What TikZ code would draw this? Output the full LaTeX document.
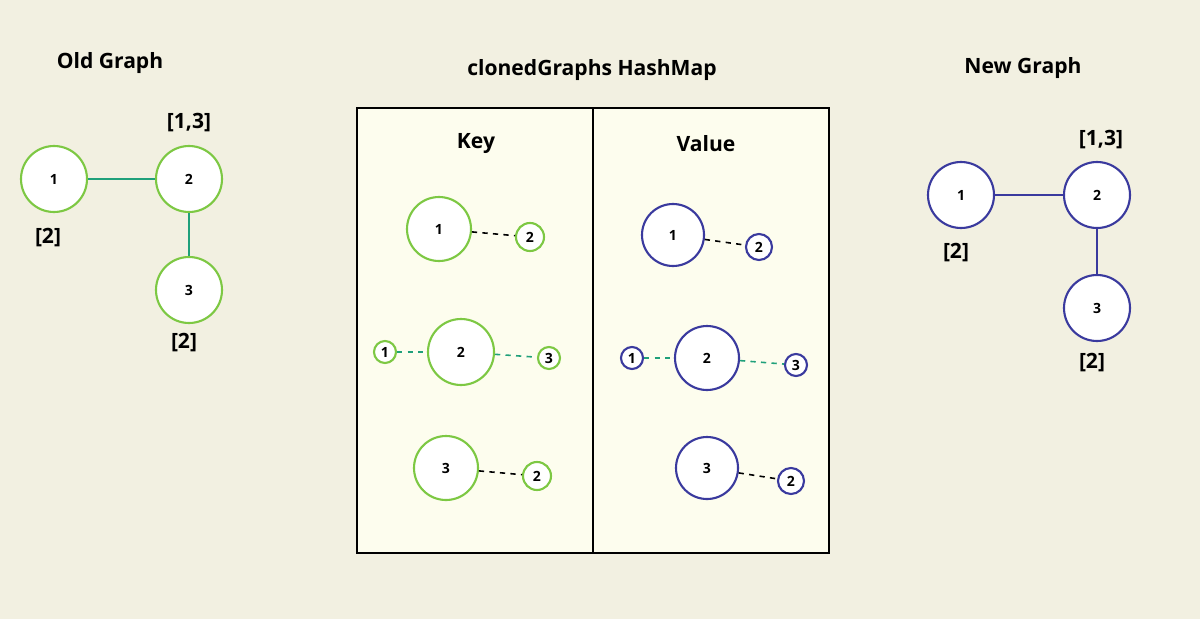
\documentclass[tikz,border=0pt]{standalone}
\usepackage{fontspec}
\setmainfont{Open Sans}
\definecolor{bg}{HTML}{F2F0E1}
\definecolor{boxfill}{HTML}{FDFDEE}
\definecolor{lgreen}{HTML}{7DC843}
\definecolor{teal}{HTML}{1FA07A}
\definecolor{dblue}{HTML}{3A3A9E}
\tikzset{
  gn/.style={circle, draw=lgreen, line width=1.2pt, fill=white, inner sep=0pt, minimum size=#1*0.02cm, font=\bfseries\footnotesize},
  bn/.style={circle, draw=dblue, line width=1.2pt, fill=white, inner sep=0pt, minimum size=#1*0.02cm, font=\bfseries\footnotesize},
  lbl/.style={font=\bfseries\large},
  ttl/.style={font=\bfseries\large},
  dsh/.style={dashed, line width=0.9pt}
}
\begin{document}
\begin{tikzpicture}[x=0.02cm,y=-0.02cm]
  \fill[bg] (0,0) rectangle (1200,619);
  \useasboundingbox (0,0) rectangle (1200,619);

  % old graph
  \node[ttl] (oldt) at (110,63) {Old Graph};
  \node[gn=66] (o1) at (54,179) {1};
  \node[gn=66] (o2) at (189,179) {2};
  \node[gn=66] (o3) at (189,290) {3};
  \draw[teal,line width=1.2pt] (o1) -- (o2);
  \draw[teal,line width=1.2pt] (o2) -- (o3);
  \node[lbl] (o2l) at (189,123) {[1,3]};
  \node[lbl] (o1l) at (48,238) {[2]};
  \node[lbl] (o3l) at (184,343) {[2]};

  % hashmap
  \node[ttl] (mapt) at (592,70) {clonedGraphs HashMap};
  \draw[line width=1.2pt, fill=boxfill] (357,108) rectangle (829,553);
  \draw[line width=1.2pt] (593,108) -- (593,553);
  \node[ttl] (keyt) at (476,144) {Key};
  \node[ttl] (valt) at (706,144) {Value};

  % keys
  \node[gn=64] (k1) at (439,229) {1};
  \node[gn=28] (k1a) at (530,237) {2};
  \node[gn=66] (k2) at (461,352) {2};
  \node[gn=22] (k2a) at (385,352) {1};
  \node[gn=22] (k2b) at (549,358) {3};
  \node[gn=64] (k3) at (446,468) {3};
  \node[gn=28] (k3a) at (537,476) {2};
  \draw[dsh] (k1) -- (k1a);
  \draw[dsh,teal] (k2a) -- (k2);
  \draw[dsh,teal] (k2) -- (k2b);
  \draw[dsh] (k3) -- (k3a);

  % values
  \node[bn=62] (v1) at (673,235) {1};
  \node[bn=26] (v1a) at (759,247) {2};
  \node[bn=64] (v2) at (707,358) {2};
  \node[bn=22] (v2a) at (632,358) {1};
  \node[bn=22] (v2b) at (796,365) {3};
  \node[bn=62] (v3) at (707,468) {3};
  \node[bn=26] (v3a) at (791,481) {2};
  \draw[dsh] (v1) -- (v1a);
  \draw[dsh,teal] (v2a) -- (v2);
  \draw[dsh,teal] (v2) -- (v2b);
  \draw[dsh] (v3) -- (v3a);

  % new graph
  \node[ttl] (newt) at (1023,68) {New Graph};
  \node[bn=66] (n1) at (961,195) {1};
  \node[bn=66] (n2) at (1097,195) {2};
  \node[bn=66] (n3) at (1097,308) {3};
  \draw[dblue,line width=1.2pt] (n1) -- (n2);
  \draw[dblue,line width=1.2pt] (n2) -- (n3);
  \node[lbl] (n2l) at (1101,140) {[1,3]};
  \node[lbl] (n1l) at (956,253) {[2]};
  \node[lbl] (n3l) at (1092,363) {[2]};
\end{tikzpicture}
\end{document}
